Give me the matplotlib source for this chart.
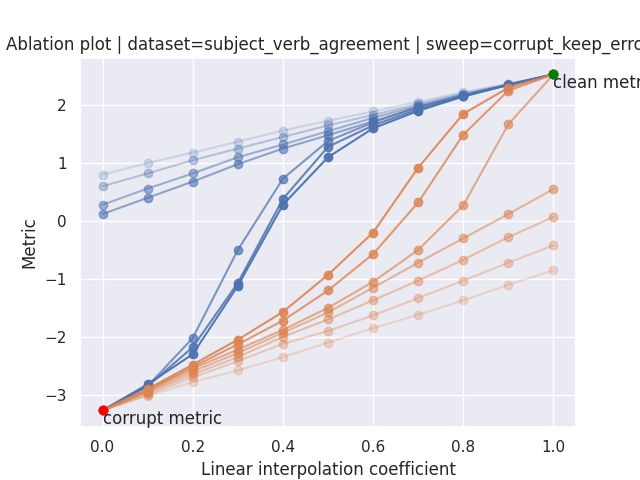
import matplotlib
matplotlib.use("Agg")
import matplotlib.pyplot as plt
import seaborn as sns

sns.set_theme()

coef = [0.0, 0.1, 0.2, 0.3, 0.4, 0.5, 0.6, 0.7, 0.8, 0.9, 1.0]
corrupt_metric = -3.27
clean_metric = 2.53

blue_lines = [
    [0.8, 1.0, 1.18, 1.37, 1.56, 1.73, 1.89, 2.06, 2.22, 2.37, 2.53],
    [0.6, 0.82, 1.05, 1.25, 1.45, 1.65, 1.83, 2.02, 2.2, 2.36, 2.53],
    [0.28, 0.56, 0.82, 1.1, 1.32, 1.55, 1.78, 1.99, 2.18, 2.35, 2.53],
    [0.12, 0.4, 0.68, 0.98, 1.25, 1.48, 1.72, 1.96, 2.16, 2.35, 2.53],
    [-3.27, -2.85, -2.02, -0.5, 0.73, 1.38, 1.7, 1.97, 2.17, 2.35, 2.53],
    [-3.27, -2.85, -2.18, -1.07, 0.38, 1.28, 1.65, 1.93, 2.15, 2.35, 2.53],
    [-3.27, -2.82, -2.3, -1.12, 0.28, 1.1, 1.6, 1.9, 2.15, 2.35, 2.53],
]
orange_lines = [
    [-3.27, -2.9, -2.48, -2.05, -1.57, -0.93, -0.2, 0.92, 1.85, 2.3, 2.53],
    [-3.27, -2.92, -2.52, -2.13, -1.72, -1.2, -0.57, 0.32, 1.49, 2.25, 2.53],
    [-3.27, -2.93, -2.55, -2.22, -1.88, -1.5, -1.05, -0.5, 0.27, 1.67, 2.53],
    [-3.27, -2.95, -2.6, -2.28, -1.93, -1.58, -1.15, -0.72, -0.3, 0.12, 0.55],
    [-3.27, -2.97, -2.65, -2.35, -2.0, -1.7, -1.37, -1.03, -0.67, -0.28, 0.07],
    [-3.27, -3.0, -2.7, -2.42, -2.12, -1.9, -1.63, -1.33, -1.03, -0.72, -0.42],
    [-3.27, -3.02, -2.78, -2.58, -2.35, -2.1, -1.85, -1.62, -1.37, -1.1, -0.85],
]

blue_alpha = [0.2, 0.35, 0.5, 0.6, 0.7, 0.85, 0.95]
orange_alpha = [0.9, 0.8, 0.65, 0.55, 0.45, 0.35, 0.25]

fig, ax = plt.subplots(figsize=(6.4, 4.8), dpi=100)
for vals, a in zip(blue_lines, blue_alpha):
    ax.plot(coef, vals, color='C0', alpha=a, marker='o')
for vals, a in zip(orange_lines, orange_alpha):
    ax.plot(coef, vals, color='C1', alpha=a, marker='o')

ax.scatter([0], [corrupt_metric], color='red', zorder=5)
ax.scatter([1], [clean_metric], color='green', zorder=5)
ax.text(0, corrupt_metric, 'corrupt metric', va='top', fontsize=12)
ax.text(1, clean_metric, 'clean metric', va='top', fontsize=12)

ax.set_title('Ablation plot | dataset=subject_verb_agreement | sweep=corrupt_keep_error')
ax.set_xlabel('Linear interpolation coefficient')
ax.set_ylabel('Metric')
fig.savefig('out.png')
